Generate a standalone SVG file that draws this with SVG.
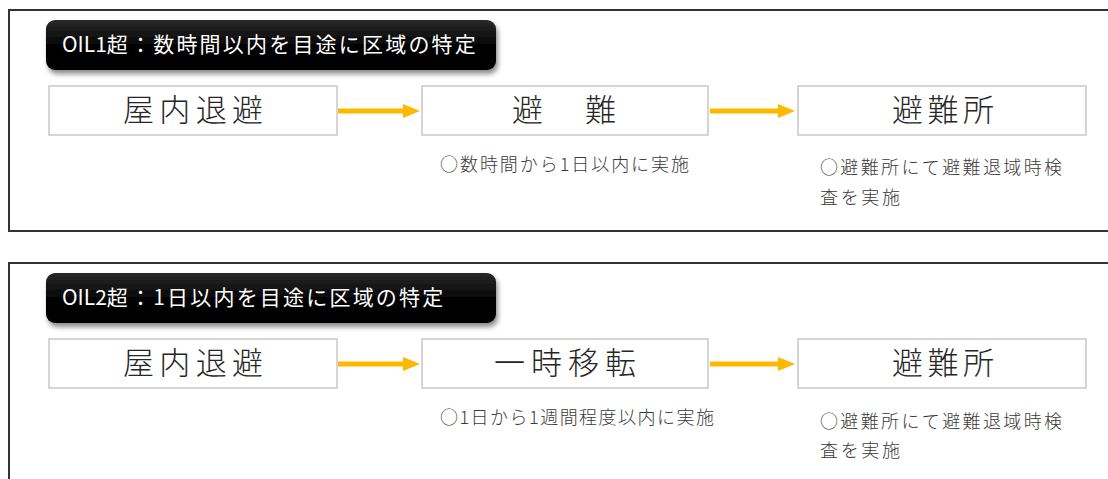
<svg xmlns="http://www.w3.org/2000/svg" width="1108" height="479" viewBox="0 0 1108 479">
<defs>
<style>
.panel{fill:none;stroke:#333;stroke-width:2}
.tbox{fill:url(#tg);filter:url(#sh)}
.ttl{font-family:"Noto Sans CJK JP","Noto Sans",sans-serif;font-size:21px;fill:#fff}
.sp{letter-spacing:2.2px}
.box{fill:#fff;stroke:#c8c8c8;stroke-width:1.5}
.lbl{font-family:"Noto Sans CJK JP",sans-serif;font-size:31px;font-weight:300;fill:#262626}
.sub{font-family:"Noto Sans CJK JP","Noto Sans",sans-serif;font-size:18px;font-weight:300;fill:#3a3a3a}
.arr{stroke:#FFB800;stroke-width:5;fill:none}
.ah{fill:#FFB800}
</style>
<linearGradient id="tg" x1="0" y1="0" x2="0" y2="1">
<stop offset="0" stop-color="#2a2a2a"/>
<stop offset="0.5" stop-color="#050505"/>
<stop offset="1" stop-color="#000"/>
</linearGradient>
<filter id="sh" x="-5%" y="-20%" width="110%" height="150%">
<feDropShadow dx="2" dy="4" stdDeviation="2.5" flood-color="#000" flood-opacity="0.45"/>
</filter>
</defs>
<rect width="1108" height="479" fill="#fff"/>

<g id="panel1">
<polyline class="panel" points="1108,10 9,10 9,231 1108,231"/>
</g>
<g id="panel2">
<polyline class="panel" points="1108,263 9,263 9,479"/>
</g>

<g id="title1">
<rect class="tbox" x="46" y="20" width="450" height="50" rx="9"/>
<text class="ttl" x="62" y="52">OIL1<tspan class="sp">超：数時間以内を目途に区域の特定</tspan></text>
</g>
<g id="title2">
<rect class="tbox" x="46" y="273" width="450" height="50" rx="9"/>
<text class="ttl" x="62" y="305">OIL2<tspan class="sp">超：1日以内を目途に区域の特定</tspan></text>
</g>

<g id="p1-shelter">
<rect class="box" x="49" y="86" width="288" height="49"/>
<text class="lbl" x="123" y="121" textLength="140" lengthAdjust="spacing">屋内退避</text>
</g>
<g id="p1-evac">
<rect class="box" x="422" y="86" width="286" height="49"/>
<text class="lbl" x="512" y="121" textLength="104" lengthAdjust="spacing">避　難</text>
<text class="sub" x="440" y="171" textLength="249" lengthAdjust="spacing">○数時間から1日以内に実施</text>
</g>
<g id="p1-refuge">
<rect class="box" x="798" y="86" width="288" height="49"/>
<text class="lbl" x="892" y="121" textLength="102" lengthAdjust="spacing">避難所</text>
<text class="sub" x="820" y="174" textLength="242" lengthAdjust="spacing">○避難所にて避難退域時検</text>
<text class="sub" x="820" y="204" textLength="80" lengthAdjust="spacing">査を実施</text>
</g>

<g id="p2-shelter">
<rect class="box" x="49" y="339" width="288" height="49"/>
<text class="lbl" x="123" y="374" textLength="140" lengthAdjust="spacing">屋内退避</text>
</g>
<g id="p2-relocate">
<rect class="box" x="422" y="339" width="286" height="49"/>
<text class="lbl" x="494" y="374" textLength="142" lengthAdjust="spacing">一時移転</text>
<text class="sub" x="440" y="424" textLength="274" lengthAdjust="spacing">○1日から1週間程度以内に実施</text>
</g>
<g id="p2-refuge">
<rect class="box" x="798" y="339" width="288" height="49"/>
<text class="lbl" x="892" y="374" textLength="102" lengthAdjust="spacing">避難所</text>
<text class="sub" x="820" y="428" textLength="242" lengthAdjust="spacing">○避難所にて避難退域時検</text>
<text class="sub" x="820" y="457" textLength="80" lengthAdjust="spacing">査を実施</text>
</g>

<g id="connectors">
<line class="arr" x1="338" y1="111" x2="404" y2="111"/>
<polygon class="ah" points="403,104 420,111 403,118"/>
<line class="arr" x1="710" y1="111" x2="779" y2="111"/>
<polygon class="ah" points="778,104 795,111 778,118"/>
<line class="arr" x1="338" y1="364" x2="404" y2="364"/>
<polygon class="ah" points="403,357 420,364 403,371"/>
<line class="arr" x1="710" y1="364" x2="779" y2="364"/>
<polygon class="ah" points="778,357 795,364 778,371"/>
</g>
</svg>
